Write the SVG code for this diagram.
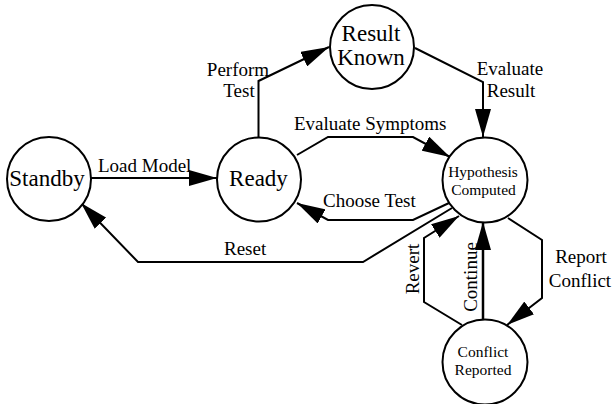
<svg xmlns="http://www.w3.org/2000/svg" width="613" height="404" viewBox="0 0 613 404">
<defs>
<marker id="arr" markerUnits="userSpaceOnUse" markerWidth="28" markerHeight="16" refX="28" refY="8" orient="auto" viewBox="0 0 28 16">
<path d="M0,0 L28,8 L0,16 Z" fill="#000"/>
</marker>
<style>
.node circle{fill:#fff;stroke:#000;stroke-width:2}
.big{font-family:"Liberation Serif","Times New Roman",serif;font-size:23px;text-anchor:middle;fill:#000}
.small{font-family:"Liberation Serif","Times New Roman",serif;font-size:15.5px;text-anchor:middle;fill:#000}
.lbl{font-family:"Liberation Serif","Times New Roman",serif;font-size:19px;fill:#000}
.mid{text-anchor:middle}
#connectors path{fill:none;stroke:#000;stroke-width:2;stroke-linejoin:miter;marker-end:url(#arr)}
</style>
</defs>
<rect width="613" height="404" fill="#fff"/>
<g id="connectors">
<path d="M91,178 L217,178"/>
<path d="M258.5,137 L258.5,81 L329,47"/>
<path d="M415,48 L483,82 L483,137"/>
<path d="M297,155 L328,137 L413,137 L450,157"/>
<path d="M449,203 L413,220 L328,220 L297,203"/>
<path d="M452,208 L363,262 L138,262 L81,203"/>
<path d="M462,325 L424,302 L424,238 L459,216"/>
<path d="M483,319 L483,222" style="stroke-width:2.5"/>
<path d="M508,218 L542,240 L542,298 L507,325"/>
<text class="lbl" x="98" y="172">Load Model</text>
<text class="lbl mid" x="238" y="76">Perform</text>
<text class="lbl mid" x="239" y="97">Test</text>
<text class="lbl mid" x="510" y="75">Evaluate</text>
<text class="lbl mid" x="511" y="97">Result</text>
<text class="lbl" x="294" y="130">Evaluate Symptoms</text>
<text class="lbl" x="323" y="207">Choose Test</text>
<text class="lbl" x="224" y="255">Reset</text>
<text class="lbl mid" transform="translate(419,269) rotate(-90)">Revert</text>
<text class="lbl mid" transform="translate(477,277) rotate(-90)">Continue</text>
<text class="lbl mid" x="581" y="263">Report</text>
<text class="lbl mid" x="580" y="287">Conflict</text>
</g>
<g id="standby" class="node"><circle cx="49" cy="179" r="42"/><text class="big" x="47" y="186">Standby</text></g>
<g id="ready" class="node"><circle cx="259" cy="179.5" r="42"/><text class="big" x="258.5" y="186">Ready</text></g>
<g id="result-known" class="node"><circle cx="372" cy="47" r="42"/><text class="big" x="371" y="41">Result</text><text class="big" x="371" y="65">Known</text></g>
<g id="hypothesis-computed" class="node"><circle cx="485" cy="180" r="42.5"/><text class="small" x="483" y="177">Hypothesis</text><text class="small" x="483.5" y="195">Computed</text></g>
<g id="conflict-reported" class="node"><circle cx="485" cy="362" r="42.5"/><text class="small" x="483" y="357">Conflict</text><text class="small" x="483" y="375">Reported</text></g>
</svg>
